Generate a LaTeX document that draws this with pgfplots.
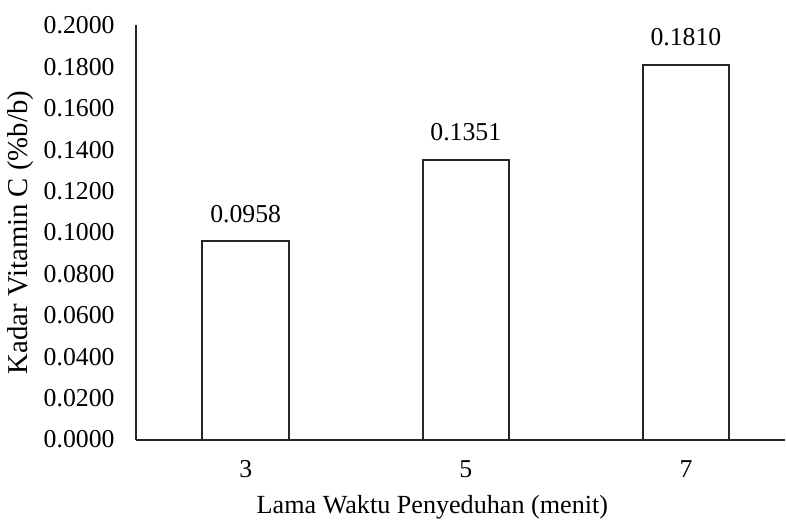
\documentclass[border=0pt]{standalone}
\usepackage{fontspec}
\setmainfont{Liberation Serif}
\usepackage{pgfplots}
\pgfplotsset{compat=1.18}

\begin{document}
\begin{tikzpicture}
\begin{axis}[
    scale only axis,
    width=323pt,
    height=206pt,
    ybar,
    bar width=43pt,
    xmin=-0.5, xmax=2.45,
    ymin=0, ymax=0.2,
    xtick=data,
    xticklabels={3,5,7},
    ytick={0,0.02,...,0.2},
    yticklabel style={/pgf/number format/fixed, /pgf/number format/fixed zerofill, /pgf/number format/precision=4},
    /pgf/number format/assume math mode=true,
    major tick length=0pt,
    axis x line=bottom,
    axis y line=left,
    axis line style={line width=1pt, draw=black!85, -},
    font=\fontsize{12.8pt}{15pt}\selectfont,
    xticklabel style={yshift=-7pt},
    yticklabel style={xshift=-7pt},
    xlabel={Lama Waktu Penyeduhan (menit)},
    ylabel={Kadar Vitamin C (\%b/b)},
    xlabel style={at={(axis description cs:0.457,0)}, anchor=north, inner sep=0pt, yshift=-27.5pt, font=\fontsize{13pt}{15pt}\selectfont},
    ylabel style={at={([xshift=-57pt]axis description cs:0,0.5)}, anchor=center, inner sep=4pt, font=\fontsize{14.3pt}{16pt}\selectfont},
    nodes near coords,
    nodes near coords style={yshift=5.5pt, /pgf/number format/fixed, /pgf/number format/fixed zerofill, /pgf/number format/precision=4},
]
\addplot[fill=white, draw=black!85, line width=1pt] coordinates {
    (0, 0.0958)
    (1, 0.1351)
    (2, 0.1810)
};
\end{axis}
\path ([yshift=5pt]current bounding box.north);
\end{tikzpicture}
\end{document}
